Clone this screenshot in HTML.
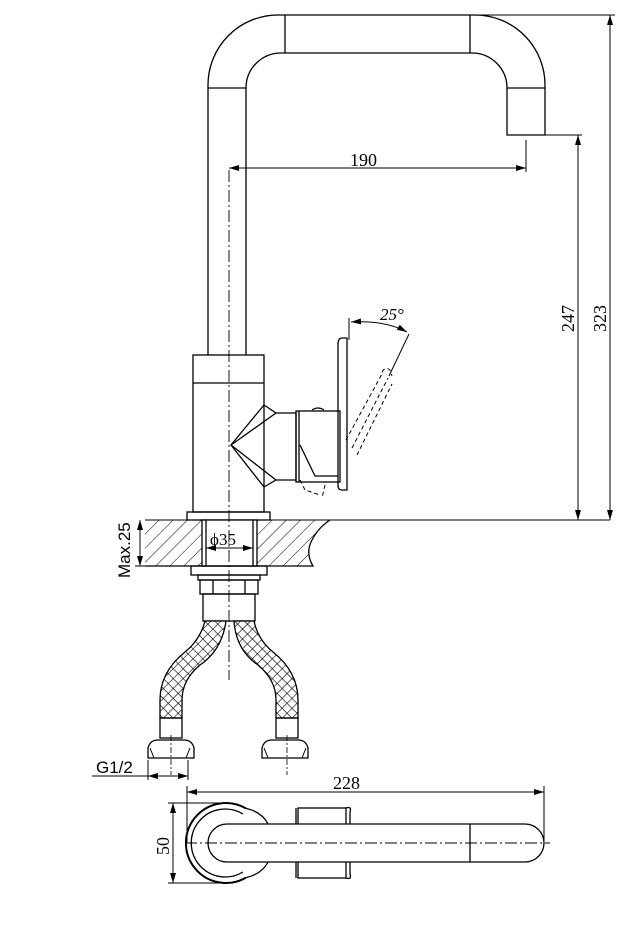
<!DOCTYPE html>
<html><head><meta charset="utf-8"><style>
html,body{margin:0;padding:0;background:#fff;}
svg{display:block;}
text{font-family:"Liberation Serif",serif;fill:#000;}
</style></head><body>
<svg width="626" height="940" viewBox="0 0 626 940" xmlns="http://www.w3.org/2000/svg">
<defs>
<pattern id="hat" width="10" height="10" patternUnits="userSpaceOnUse" patternTransform="rotate(45)">
<line x1="0" y1="0" x2="0" y2="10" stroke="#000" stroke-width="1"/>
</pattern>
<pattern id="mesh" width="7" height="7" patternUnits="userSpaceOnUse" patternTransform="rotate(45)">
<rect width="7" height="7" fill="#fff"/>
<path d="M0 0H7M0 0V7" stroke="#000" stroke-width="1.2"/>
</pattern>
<marker id="ar" markerWidth="10" markerHeight="6" refX="10" refY="3" orient="auto-start-reverse" markerUnits="userSpaceOnUse">
<path d="M0,0 L10,3 L0,6 z" fill="#000"/>
</marker>
</defs>
<g fill="none" stroke="#000" stroke-width="1.3">
<path d="M208 355 V85 A70 70 0 0 1 278 15 H475 A70 70 0 0 1 545 85 V135 H507 V88 A35 35 0 0 0 472 53 H281 A35 35 0 0 0 246 88 V355"/>
<line x1="285" y1="15" x2="285" y2="53"/>
<line x1="470" y1="15" x2="470" y2="53"/>
<line x1="208" y1="88" x2="246" y2="88"/>
<line x1="507" y1="88" x2="545" y2="88"/>
<rect x="193" y="355" width="71" height="157"/>
<line x1="193" y1="383" x2="264" y2="383"/>
<path d="M264 405 L276 413 H296 V480 H276 L264 487"/>
<path d="M264 405 L231 445 L264 487"/>
<path d="M231 445 L276 413 M231 445 L276 480"/>
<rect x="296" y="411" width="44" height="71"/>
<line x1="299" y1="411" x2="299" y2="482"/>
<path d="M300 445 L315 476 H338"/>
<path d="M342 338 Q338 338 338 345 V485 Q338 490 342 490 H347 V338 Z"/>
<path d="M312 410 Q318 406 324 410"/>
<g stroke-dasharray="4,3" stroke-width="1">
<line x1="346" y1="440" x2="383" y2="372"/>
<line x1="352" y1="448" x2="388" y2="378"/>
<line x1="357" y1="455" x2="392" y2="384"/>
<path d="M382 372 Q385 366 390 370 L392 376"/>
<path d="M300 480 L305 490 L320 495 M325 485 L322 498"/>
</g>
<line x1="349" y1="318" x2="349" y2="340" stroke-width="1"/>
<line x1="409" y1="334" x2="389" y2="376" stroke-width="1"/>
<path d="M351 322 Q385 320 407 332" stroke-width="1" marker-start="url(#ar)" marker-end="url(#ar)"/>
<rect x="187" y="512" width="83" height="8"/>
<path d="M145 520 H610" stroke-width="1"/>
<path d="M145 520 V566 H313 Q305 553 312 540 Q318 528 330 520" fill="url(#hat)" stroke="none"/>
<path d="M145 566 H313 Q305 553 312 540 Q318 528 330 520"/>
<rect x="202" y="520" width="55" height="46" fill="#fff"/>
<line x1="206" y1="520" x2="206" y2="566"/>
<line x1="253" y1="520" x2="253" y2="566"/>
<rect x="191" y="566" width="76" height="9"/>
<path d="M198 575 H260 V580 H198 Z"/>
<rect x="200" y="580" width="58" height="14"/>
<line x1="213" y1="580" x2="213" y2="594"/><line x1="245" y1="580" x2="245" y2="594"/>
<rect x="203" y="594" width="52" height="27"/>
<path d="M205 621 H226 Q222 650 200 665 Q182 680 182 700 V718 H160 V700 Q160 672 185 652 Q200 640 205 621 Z" fill="url(#mesh)"/>
<path d="M234 621 H254 Q258 640 273 652 Q298 672 298 700 V718 H276 V700 Q276 680 258 665 Q236 650 234 621 Z" fill="url(#mesh)"/>
<rect x="160" y="718" width="22" height="20"/>
<rect x="276" y="718" width="22" height="20"/>
<path d="M148 758 V748 Q150 740 158 740 H184 Q192 740 194 748 V758 Z"/>
<path d="M262 758 V748 Q264 740 272 740 H298 Q306 740 308 748 V758 Z"/>
<path d="M150 748 L154 758 M190 748 L186 758 M264 748 L268 758 M306 748 L302 758" stroke-width="1"/>
<line x1="229" y1="170" x2="229" y2="680" stroke-width="0.9" stroke-dasharray="12,3,2,3"/>
<line x1="171" y1="735" x2="171" y2="775" stroke-width="0.8" stroke-dasharray="6,2,2,2"/>
<line x1="287" y1="735" x2="287" y2="775" stroke-width="0.8" stroke-dasharray="6,2,2,2"/>
<g stroke-width="1">
<line x1="545" y1="135" x2="582" y2="135"/>
<line x1="470" y1="15" x2="615" y2="15"/>
<line x1="526" y1="140" x2="526" y2="172"/>
<line x1="229" y1="168" x2="526" y2="168" marker-start="url(#ar)" marker-end="url(#ar)"/>
<line x1="578" y1="135" x2="578" y2="520" marker-start="url(#ar)" marker-end="url(#ar)"/>
<line x1="610" y1="15" x2="610" y2="520" marker-start="url(#ar)" marker-end="url(#ar)"/>
<line x1="206" y1="548" x2="253" y2="548" marker-start="url(#ar)" marker-end="url(#ar)"/>
<line x1="140" y1="520" x2="140" y2="566" marker-start="url(#ar)" marker-end="url(#ar)"/>
<line x1="135" y1="566" x2="145" y2="566"/>
<line x1="92" y1="776" x2="188" y2="776"/>
<line x1="148" y1="760" x2="148" y2="780"/><line x1="188" y1="760" x2="188" y2="780"/>
<line x1="160" y1="776" x2="148" y2="776" marker-end="url(#ar)"/>
<line x1="176" y1="776" x2="188" y2="776" marker-end="url(#ar)"/>
<line x1="187" y1="792" x2="544" y2="792" marker-start="url(#ar)" marker-end="url(#ar)"/>
<line x1="187" y1="786" x2="187" y2="843"/>
<line x1="544" y1="786" x2="544" y2="843"/>
<line x1="173" y1="803" x2="173" y2="883" marker-start="url(#ar)" marker-end="url(#ar)"/>
<line x1="168" y1="803" x2="230" y2="803"/>
<line x1="168" y1="883" x2="230" y2="883"/>
</g>
<path d="M246 808.4 A40 40 0 1 0 246 877.6" stroke-width="2"/>
<path d="M243 814 A34 34 0 1 0 243 872"/>
<path d="M246 808.4 Q262 812 268 824 M246 877.6 Q262 874 268 862"/>
<rect x="298" y="808" width="48" height="70"/>
<line x1="296" y1="808" x2="296" y2="878"/>
<path d="M346 808 Q352 806 350 812 V874 Q352 880 346 878"/>
<path d="M227 824 H525 A19 19 0 0 1 525 862 H227 A19 19 0 0 1 227 824 Z" fill="#fff"/>
<line x1="470" y1="824" x2="470" y2="862"/>
<line x1="185" y1="843" x2="550" y2="843" stroke-width="0.9" stroke-dasharray="12,3,2,3"/>
</g>
<text x="350" y="166" font-size="18">190</text>
<text x="380" y="320" font-size="17" font-style="italic">25°</text>
<text x="574" y="332" font-size="18" transform="rotate(-90 574 332)">247</text>
<text x="606" y="332" font-size="18" transform="rotate(-90 606 332)">323</text>
<text x="210" y="545" font-size="17">ϕ35</text>
<text x="130" y="578" font-size="17" style="font-family:'Liberation Sans',sans-serif" transform="rotate(-90 130 578)">Max.25</text>
<text x="96" y="773" font-size="17" style="font-family:'Liberation Sans',sans-serif">G1/2</text>
<text x="333" y="789" font-size="18">228</text>
<text x="169" y="855" font-size="18" transform="rotate(-90 169 855)">50</text>
</svg>
</body></html>
